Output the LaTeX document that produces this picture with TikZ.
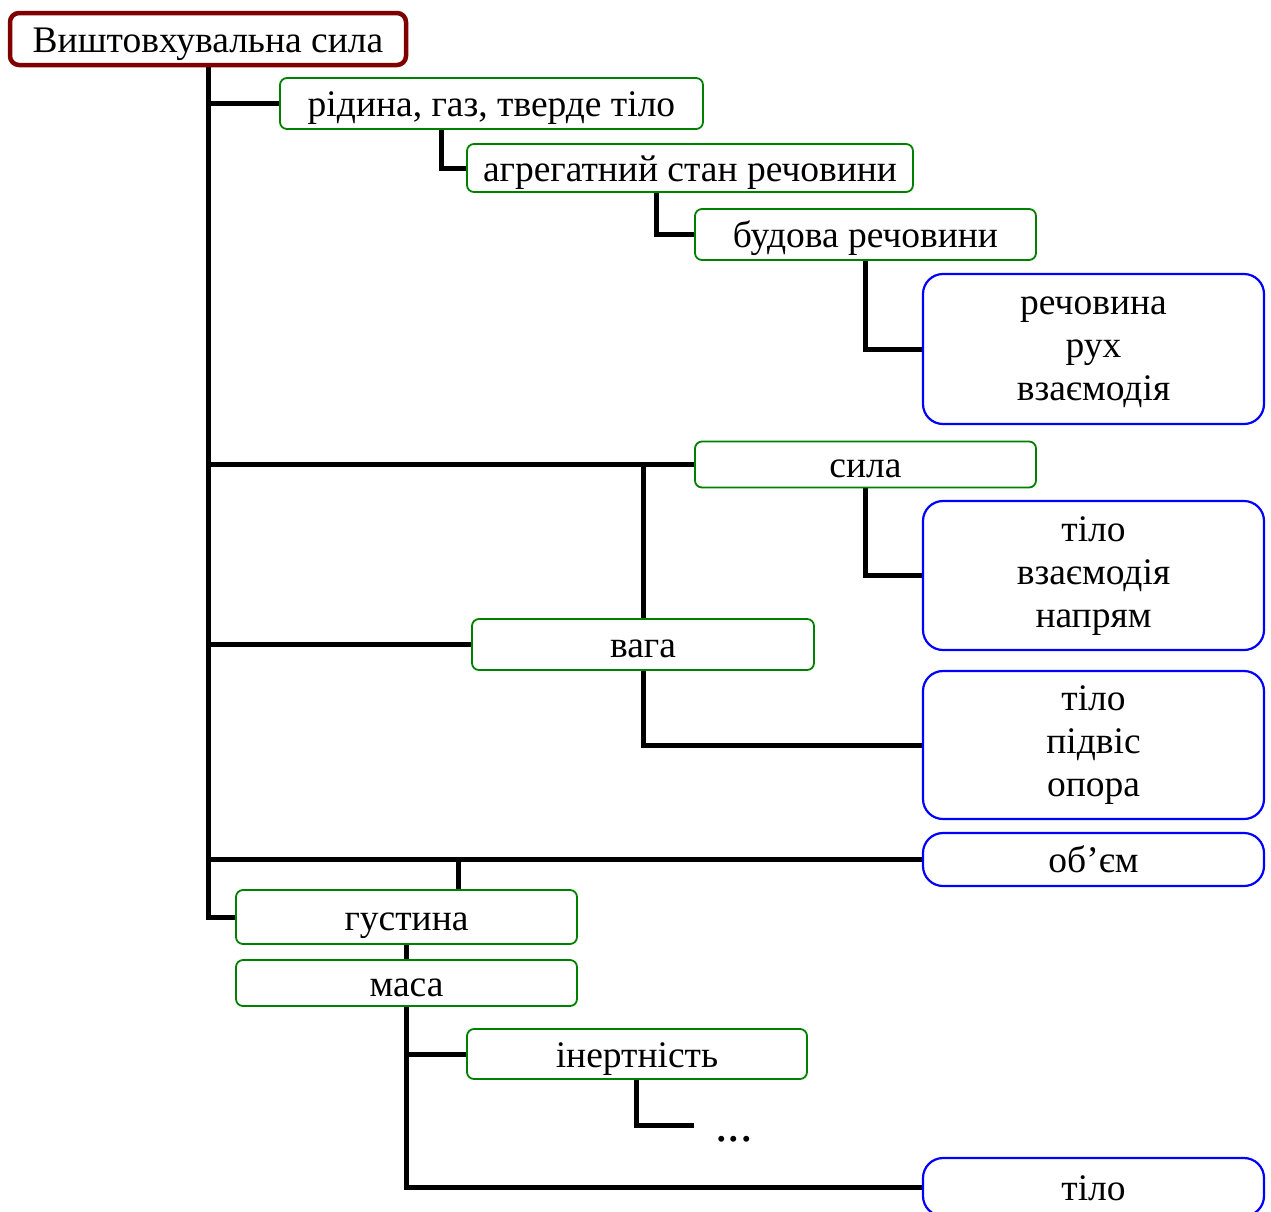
\documentclass[tikz,border=0pt]{standalone}
\usepackage{fontspec}
\setmainfont{Liberation Serif}
\usetikzlibrary{backgrounds}
\definecolor{rootred}{RGB}{128,0,0}
\definecolor{leafgreen}{RGB}{0,128,0}
\definecolor{leafblue}{RGB}{0,0,255}
% stacked lines inside the blue boxes, one line per baseline step
\newcommand\boxlines[1]{\begin{tabular}{@{}c@{}}#1\end{tabular}}
\tikzset{
  labelfont/.style={font=\fontsize{37.5}{43}\selectfont},
  box/.style={rectangle, inner sep=0pt, align=center, fill=white, labelfont,
    execute at begin node={\rule[-10pt]{0pt}{46pt}}},
  rootbox/.style={box, draw=rootred, line width=4.5pt, rounded corners=9pt},
  gbox/.style={box, draw=leafgreen, line width=1.8pt, rounded corners=7pt},
  bbox/.style={box, draw=leafblue, line width=2.2pt, rounded corners=20pt},
  conn/.style={line width=5pt, black},
}
\begin{document}
\begin{tikzpicture}[x=1pt, y=-1pt]
\useasboundingbox (0,0) rectangle (1271,1211);

% concept boxes
\node[rootbox, minimum width=396pt, minimum height=52pt] (root) at (208,39) {Виштовхувальна сила};
\node[gbox, minimum width=423pt, minimum height=51pt] (ridyna) at (491.5,103.5) {рідина, газ, тверде тіло};
\node[gbox, minimum width=446pt, minimum height=48pt] (ahreh) at (690,168) {агрегатний стан речовини};
\node[gbox, minimum width=341pt, minimum height=51pt] (budova) at (865.5,234.5) {будова речовини};
\node[bbox, minimum width=341pt, minimum height=150pt] (rech) at (1093.5,349) {\boxlines{речовина\\рух\\взаємодія}};
\node[gbox, minimum width=341pt, minimum height=46pt] (syla) at (865.5,464.5) {сила};
\node[bbox, minimum width=341pt, minimum height=149pt] (tiloA) at (1093.5,575.5) {\boxlines{тіло\\взаємодія\\напрям}};
\node[gbox, minimum width=342pt, minimum height=51pt] (vaha) at (643,644.5) {вага};
\node[bbox, minimum width=341pt, minimum height=148pt] (tiloB) at (1093.5,745) {\boxlines{тіло\\підвіс\\опора}};
\node[bbox, minimum width=341pt, minimum height=53pt] (obiem) at (1093.5,859.5) {об’єм};
\node[gbox, minimum width=341pt, minimum height=54pt] (hust) at (406.5,917) {густина};
\node[gbox, minimum width=341pt, minimum height=46pt] (masa) at (406.5,983) {маса};
\node[gbox, minimum width=340pt, minimum height=50pt] (inert) at (637,1054) {інертність};
\node[bbox, minimum width=341pt, minimum height=58pt] (tiloC) at (1093.5,1187) {тіло};
\node[anchor=base, inner sep=0pt, font=\fontsize{50}{50}\selectfont] (dots) at (734,1141) {...};

% elbow positions of the connectors
\coordinate (jA) at (441,0);
\coordinate (jB) at (656,0);
\coordinate (jC) at (458,0);
\coordinate (jD) at (636,0);
\coordinate (dend) at (694,1125);

\begin{scope}[on background layer]
  % main trunk
  \draw[conn] (root.south) |- (hust.west);
  \draw[conn] (root.south |- ridyna.west) -- (ridyna.west);
  \draw[conn] (root.south |- syla.west) -- (syla.west);
  \draw[conn] (root.south |- vaha.west) -- (vaha.west);
  \draw[conn] (root.south |- obiem.west) -- (obiem.west);
  % upper chain
  \draw[conn] (ridyna.south -| jA) |- (ahreh.west);
  \draw[conn] (ahreh.south -| jB) |- (budova.west);
  \draw[conn] (budova.south) |- (rech.west);
  % force and weight
  \draw[conn] (syla.south) |- (tiloA.west);
  \draw[conn] (vaha.north) -- (vaha.north |- syla.west);
  \draw[conn] (vaha.south) |- (tiloB.west);
  % density and mass
  \draw[conn] (hust.north -| jC) -- (jC |- obiem.west);
  \draw[conn] (hust.south) -- (masa.north);
  \draw[conn] (masa.south) |- (tiloC.west);
  \draw[conn] (masa.south |- inert.west) -- (inert.west);
  \draw[conn] (inert.south -| jD) |- (dend);
\end{scope}
\end{tikzpicture}
\end{document}
